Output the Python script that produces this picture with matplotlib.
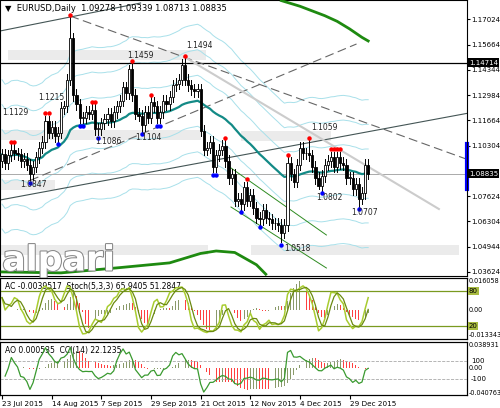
import numpy as np, pandas as pd
import matplotlib
matplotlib.use("Agg")
import matplotlib.pyplot as plt
import matplotlib.patheffects as pe
from matplotlib.patches import Rectangle

closes = [1.0985,1.0940,1.0980,1.1010,1.0990,1.0985,1.0950,1.0960,1.0930,1.0880,
          1.0920,1.0970,1.1020,1.1050,1.1160,1.1100,1.1130,1.1080,1.1100,1.1230,
          1.1240,1.1380,1.1600,1.1300,1.1250,1.1180,1.1180,1.1210,1.1200,1.1220,
          1.1120,1.1120,1.1150,1.1170,1.1200,1.1160,1.1210,1.1240,1.1270,1.1340,
          1.1310,1.1440,1.1300,1.1200,1.1190,1.1140,1.1210,1.1180,1.1260,1.1240,
          1.1180,1.1210,1.1270,1.1250,1.1290,1.1350,1.1360,1.1380,1.1460,1.1380,
          1.1350,1.1330,1.1320,1.1330,1.1110,1.1010,1.1020,1.1050,1.0920,1.0980,
          1.1010,1.1030,1.0950,1.0860,1.0880,1.0740,1.0750,1.0720,1.0810,1.0740,
          1.0770,1.0700,1.0650,1.0640,1.0690,1.0650,1.0640,1.0620,1.0620,1.0610,
          1.0570,1.0610,1.0940,1.0880,1.0840,1.0930,1.1020,1.0990,1.0990,1.0980,
          1.0920,1.0860,1.0820,1.0870,1.0930,1.0950,1.0970,1.0920,1.0970,1.0940,
          1.0930,1.0860,1.0860,1.0800,1.0830,1.0750,1.0780,1.0930,1.0883]
first_open = 1.0950
extremes = {9: (None, 1.0847), 22: (1.1713, None), 31: (None, 1.1086), 41: (1.1459, None),
            45: (None, 1.1104), 59: (1.1494, None), 90: (None, 1.0518), 99: (1.1059, None),
            102: (None, 1.0802), 115: (None, 1.0707)}
wick = 0.0030
date_labels = ["23 Jul 2015","14 Aug 2015","7 Sep 2015","29 Sep 2015","21 Oct 2015",
               "12 Nov 2015","4 Dec 2015","29 Dec 2015"]
price_ticks = [1.17024,1.15664,1.14344,1.12984,1.11664,1.10304,1.07624,1.06304,1.04944,1.03624]
level_labels = [(2,115,"1.1129"),(20,187,"1.0847"),(38,100,"1.1215"),(127,58,"1.1459"),
                (185,48,"1.1494"),(95,144,"1.1086"),(135,140,"1.1104"),(310,130,"1.1059"),
                (315,200,"1.0802"),(350,215,"1.0707"),(283,251,"1.0518")]
green_top = [(90,1.1800),(92,1.1790),(96,1.1770),(100,1.1745),(104,1.1720),(108,1.1690),(112,1.1650),(116,1.1605),(118,1.1586)]
green_bot = [(0,1.0362),(19,1.0357),(38,1.0385),(54,1.0410),(64,1.0460),(69,1.0473),(75,1.0465),
             (82,1.0400),(85,1.0350)]

W, H = 500, 408
fig = plt.figure(figsize=(5, 4.08), dpi=100)
PX = 3.09
x0 = -2/PX; x1 = x0 + 465/PX
def ax_at(top, bottom):
    return fig.add_axes([0, 1-bottom/H, 467/W, (bottom-top)/H])
def py2p(py): return 1.17024-(py-19)/1887
ymax = py2p(0); ymin = py2p(276)
ax = ax_at(0, 276)
ax.set_xlim(x0, x1); ax.set_ylim(ymin, ymax)
n = len(closes); idx = np.arange(n)
opens = [first_open] + closes[:-1]
highs = [max(o, c)+wick for o, c in zip(opens, closes)]
lows = [min(o, c)-wick for o, c in zip(opens, closes)]
for k, (h, l) in extremes.items():
    if h: highs[k] = h
    if l: lows[k] = l
s = pd.Series(closes)
ma = s.ewm(span=40).mean()
for f in [0.012, 0.024, 0.036]:
    for sg in (1, -1):
        ax.plot(idx, ma*(1+sg*f), color="#a8e0ea", lw=0.7, zorder=1)
ax.plot(idx, ma, color="#138a86", lw=1.6, zorder=3)
for a in (green_top, green_bot):
    ax.plot([p[0] for p in a], [p[1] for p in a], color="#1e8a10", lw=2, zorder=3)
def bx(px): return (px-2)/PX
for (yy, xa, xb) in [(55, 8, 205), (135, 0, 200), (185, 0, 55), (250, 0, 207), (250, 250, 457), (136, 240, 330)]:
    p = py2p(yy)
    ax.add_patch(Rectangle((bx(xa), p-0.0025), (xb-xa)/PX, 0.005, color="#ebebeb", zorder=0, lw=0))
ax.axhline(1.14714, color="black", lw=0.9, zorder=2)
ax.axhline(1.08835, color="#aaaaaa", lw=0.7, zorder=2)
ax.plot([bx(70), bx(467)], [1.1718, 1.0955], color="#666666", lw=0.8, ls=(0, (8, 4)), zorder=2)
ax.plot([bx(30), bx(355)], [1.0847, 1.1570], color="#666666", lw=0.8, ls=(0, (8, 4)), zorder=2)
ax.plot([bx(0), bx(467)], [py2p(200), py2p(113)], color="#445555", lw=0.8, zorder=2)
ax.plot([bx(186), bx(437)], [1.1494, py2p(209)], color="#cccccc", lw=1.5, zorder=2)
ax.plot([bx(0), bx(140)], [py2p(31), py2p(3)], color="#445555", lw=0.8, zorder=2)
ax.plot([bx(230), bx(325)], [py2p(168), py2p(235)], color="#2e8b20", lw=0.7, zorder=2)
ax.plot([bx(230), bx(325)], [py2p(207), py2p(268)], color="#2e8b20", lw=0.7, zorder=2)
for i in idx:
    o, c = opens[i], closes[i]
    ax.plot([i, i], [lows[i], highs[i]], color="black", lw=0.7, zorder=4)
    fc = "white" if c >= o else "black"
    ax.add_patch(Rectangle((i-0.35, min(o, c)), 0.7, max(abs(c-o), 0.0003), fc=fc, ec="black", lw=0.6, zorder=5))
hs = np.array(highs); ls_ = np.array(lows)
for i in range(3, n-2):
    if hs[i] == hs[max(0,i-3):i+4].max():
        ax.plot(i, hs[i]+0.0012, "o", ms=2.2, color="red", zorder=6)
    if ls_[i] == ls_[max(0,i-3):i+4].min():
        ax.plot(i, ls_[i]-0.0012, "o", ms=2.2, color="blue", zorder=6)
for px, py, t in level_labels:
    ax.text(bx(px), py2p(py), t, fontsize=5.5, color="#222222", zorder=7)
ax.text(0.01, 0.985, "▼  EURUSD,Daily  1.09278 1.09339 1.08713 1.08835", transform=ax.transAxes,
        fontsize=6, va="top", zorder=8)
ax.text(0.005, 0.02, "alpari", transform=ax.transAxes, fontsize=25, color="white",
        fontweight="bold", zorder=8, path_effects=[pe.withStroke(linewidth=1.5, foreground="#888888")])
ax.yaxis.tick_right(); ax.set_yticks(price_ticks)
ax.set_yticklabels([f"{v:.5f}" for v in price_ticks], fontsize=5)
ax.tick_params(axis="y", length=2, pad=1); ax.set_xticks([])
for v in (1.14714, 1.08835):
    ax.text(1.004, v, f"{v:.5f}", transform=ax.get_yaxis_transform(), fontsize=5,
            color="white", va="center", bbox=dict(fc="black", ec="none", pad=1))
ax.plot([1, 1], [1.080, 1.104], transform=ax.get_yaxis_transform(), color="blue", lw=3, clip_on=False)

hl = (hs+ls_)/2
med = pd.Series(hl)
ao = med.rolling(5, min_periods=1).mean() - med.rolling(34, min_periods=1).mean()
ac = ao - ao.rolling(5, min_periods=1).mean()
hh = pd.Series(hs).rolling(5, min_periods=1).max(); ll = pd.Series(ls_).rolling(5, min_periods=1).min()
k = ((s-ll).rolling(3, min_periods=1).sum()/(hh-ll).rolling(3, min_periods=1).sum()*100)
d = k.rolling(3, min_periods=1).mean()
tp = pd.Series((hs+ls_+np.array(closes))/3)
md = tp.rolling(14, min_periods=1).apply(lambda x: np.mean(np.abs(x-x.mean())), raw=True)
cci = (tp - tp.rolling(14, min_periods=1).mean())/(0.015*md.replace(0, np.nan))

a2 = ax_at(278, 339)
a2.set_xlim(x0, x1); a2.set_ylim(-0.0159, 0.0172)
colors = ["#8a9a6a" if i == 0 or ac[i] >= ac[i-1] else "#ff4040" for i in idx]
a2.bar(idx, ac, width=0.3, color=colors)
b2 = a2.twinx(); b2.set_ylim(-2, 102)
b2.axhline(80, color="#7a9a20", lw=0.9); b2.axhline(20, color="#7a9a20", lw=0.9)
b2.plot(idx, k, color="#a8cc30", lw=1.1); b2.plot(idx, d, color="#6a8a10", lw=0.9)
b2.set_yticks([]); a2.yaxis.tick_right()
a2.set_yticks([0.016058, 0.0, -0.013343]); a2.set_yticklabels(["0.016058", "0.00", "-0.013343"], fontsize=4.7)
a2.tick_params(axis="y", length=0, pad=1.5); a2.set_xticks([])
for lv in (80, 20):
    b2.text(1.004, lv, str(lv), transform=b2.get_yaxis_transform(), fontsize=5, va="center",
            bbox=dict(fc="#a8bb40", ec="none", pad=0.5))
a2.text(0.01, 0.93, "AC -0.0039517  Stoch(5,3,3) 65.9405 51.2847", transform=a2.transAxes, fontsize=5.5, va="top")

a3 = ax_at(342, 395)
a3.set_xlim(x0, x1); a3.set_ylim(-0.0445, 0.0425)
colors = ["#8a9a6a" if i == 0 or ao[i] >= ao[i-1] else "#ff4040" for i in idx]
a3.bar(idx, ao, width=0.3, color=colors)
b3 = a3.twinx(); b3.set_ylim(-270, 300)
b3.axhline(100, color="#aaaaaa", lw=0.6, ls="--"); b3.axhline(-100, color="#aaaaaa", lw=0.6, ls="--")
b3.plot(idx, cci, color="#3a9a30", lw=0.9); b3.set_yticks([])
a3.yaxis.tick_right()
a3.set_yticks([0.038931, 0.0, -0.040763]); a3.set_yticklabels(["0.038931", "0.00", "-0.040763"], fontsize=4.7)
a3.tick_params(axis="y", length=0, pad=1.5)
for lv in (100, -100):
    b3.text(1.008, lv, str(lv), transform=b3.get_yaxis_transform(), fontsize=5, va="center")
a3.text(0.01, 0.93, "AO 0.000535  CCI(14) 22.1235", transform=a3.transAxes, fontsize=5.5, va="top")
a3.set_xticks(np.arange(0, 16*len(date_labels), 16))
a3.set_xticklabels(date_labels, fontsize=5.2, ha="left")
a3.tick_params(axis="x", length=3, pad=1)
for a in (ax, a2, a3):
    for sp in a.spines.values(): sp.set_linewidth(0.8)
fig.savefig("out.png", dpi=100)
